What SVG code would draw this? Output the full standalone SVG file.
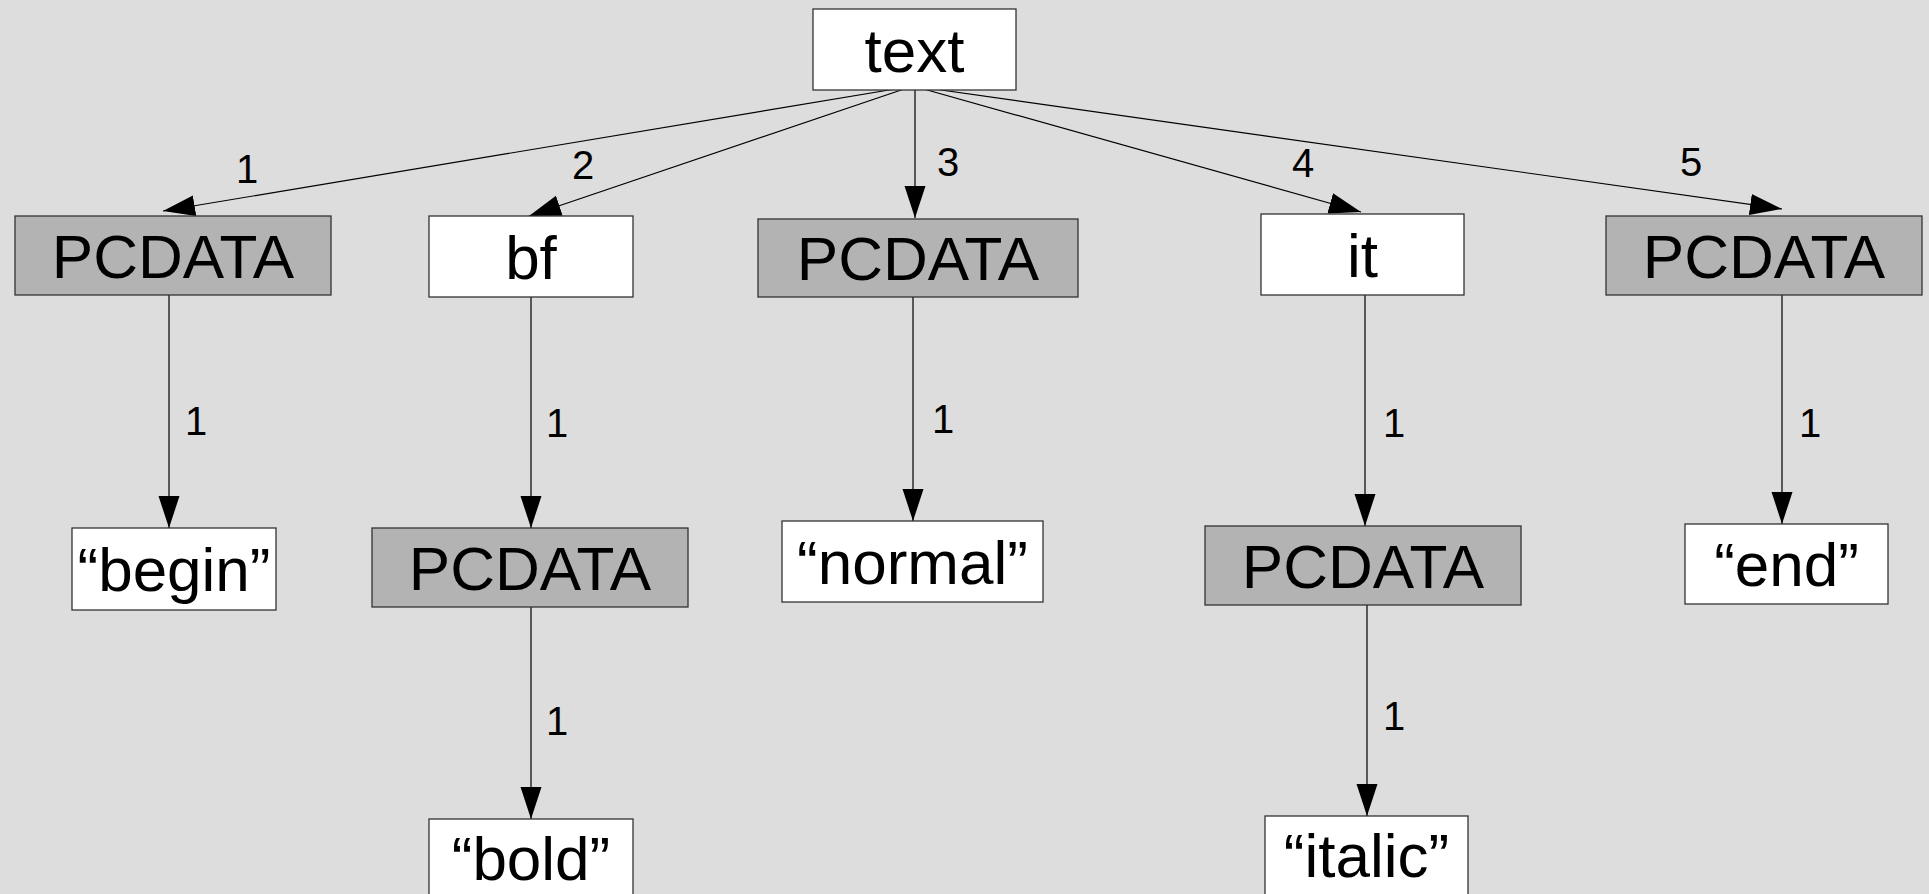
<svg xmlns="http://www.w3.org/2000/svg" width="1929" height="894" viewBox="0 0 1929 894">
<style>
.bg{fill:#dddddd}
.w{fill:#ffffff;stroke:#333333;stroke-width:1.3}
.g{fill:#b3b3b3;stroke:#333333;stroke-width:1.3}
.t{font-family:"Liberation Sans",Arial,sans-serif;font-size:62px;text-anchor:middle;fill:#000}
.l{font-family:"Liberation Sans",Arial,sans-serif;font-size:40px;text-anchor:middle;fill:#000}
.e{stroke:#000;stroke-width:1.2;fill:none;marker-end:url(#ah)}
</style>
<defs>
<marker id="ah" markerUnits="userSpaceOnUse" markerWidth="34" markerHeight="24" refX="32" refY="10.5" orient="auto" viewBox="0 0 34 24">
<path d="M0,0 L32,10.5 L0,21 z" fill="#000"/>
</marker>
</defs>
<rect class="bg" x="0" y="0" width="1929" height="894"/>
<g id="connectors">
<line class="e" x1="913" y1="86" x2="163" y2="211"/>
<line class="e" x1="913" y1="86" x2="529" y2="216"/>
<line class="e" x1="915" y1="90" x2="915" y2="218"/>
<line class="e" x1="913" y1="86" x2="1361" y2="212"/>
<line class="e" x1="913" y1="86" x2="1782" y2="209"/>
<line class="e" x1="169" y1="295" x2="169" y2="528"/>
<line class="e" x1="531" y1="297" x2="531" y2="528"/>
<line class="e" x1="531" y1="607" x2="531" y2="819"/>
<line class="e" x1="913" y1="297" x2="913" y2="521"/>
<line class="e" x1="1365" y1="295" x2="1365" y2="526"/>
<line class="e" x1="1367" y1="605" x2="1367" y2="816"/>
<line class="e" x1="1782" y1="295" x2="1782" y2="524"/>
<text class="l" x="247" y="183">1</text>
<text class="l" x="583" y="179">2</text>
<text class="l" x="948" y="176">3</text>
<text class="l" x="1303" y="177">4</text>
<text class="l" x="1691" y="176">5</text>
<text class="l" x="196" y="435">1</text>
<text class="l" x="557" y="437">1</text>
<text class="l" x="557" y="735">1</text>
<text class="l" x="943" y="433">1</text>
<text class="l" x="1394" y="437">1</text>
<text class="l" x="1394" y="730">1</text>
<text class="l" x="1810" y="437">1</text>
</g>
<g id="n-text"><rect class="w" x="813" y="9" width="203" height="81"/><text class="t" x="914.5" y="72">text</text></g>
<g id="n-pcdata1"><rect class="g" x="15" y="216" width="316" height="79"/><text class="t" x="173" y="278">PCDATA</text></g>
<g id="n-bf"><rect class="w" x="429" y="216" width="204" height="81"/><text class="t" x="531" y="279">bf</text></g>
<g id="n-pcdata3"><rect class="g" x="758" y="219" width="320" height="78"/><text class="t" x="918" y="280">PCDATA</text></g>
<g id="n-it"><rect class="w" x="1261" y="214" width="203" height="81"/><text class="t" x="1362.5" y="277">it</text></g>
<g id="n-pcdata5"><rect class="g" x="1606" y="216" width="316" height="79"/><text class="t" x="1764" y="278">PCDATA</text></g>
<g id="n-begin"><rect class="w" x="72" y="528" width="204" height="82"/><text class="t" x="174" y="591">“begin”</text></g>
<g id="n-pcdata-bf"><rect class="g" x="372" y="528" width="316" height="79"/><text class="t" x="530" y="590">PCDATA</text></g>
<g id="n-normal"><rect class="w" x="782" y="521" width="261" height="81"/><text class="t" x="912.5" y="584">“normal”</text></g>
<g id="n-pcdata-it"><rect class="g" x="1205" y="526" width="316" height="79"/><text class="t" x="1363" y="588">PCDATA</text></g>
<g id="n-end"><rect class="w" x="1685" y="524" width="203" height="80"/><text class="t" x="1786.5" y="586">“end”</text></g>
<g id="n-bold"><rect class="w" x="429" y="819" width="204" height="90"/><text class="t" x="531" y="880">“bold”</text></g>
<g id="n-italic"><rect class="w" x="1265" y="816" width="203" height="90"/><text class="t" x="1366.5" y="877">“italic”</text></g>
</svg>
